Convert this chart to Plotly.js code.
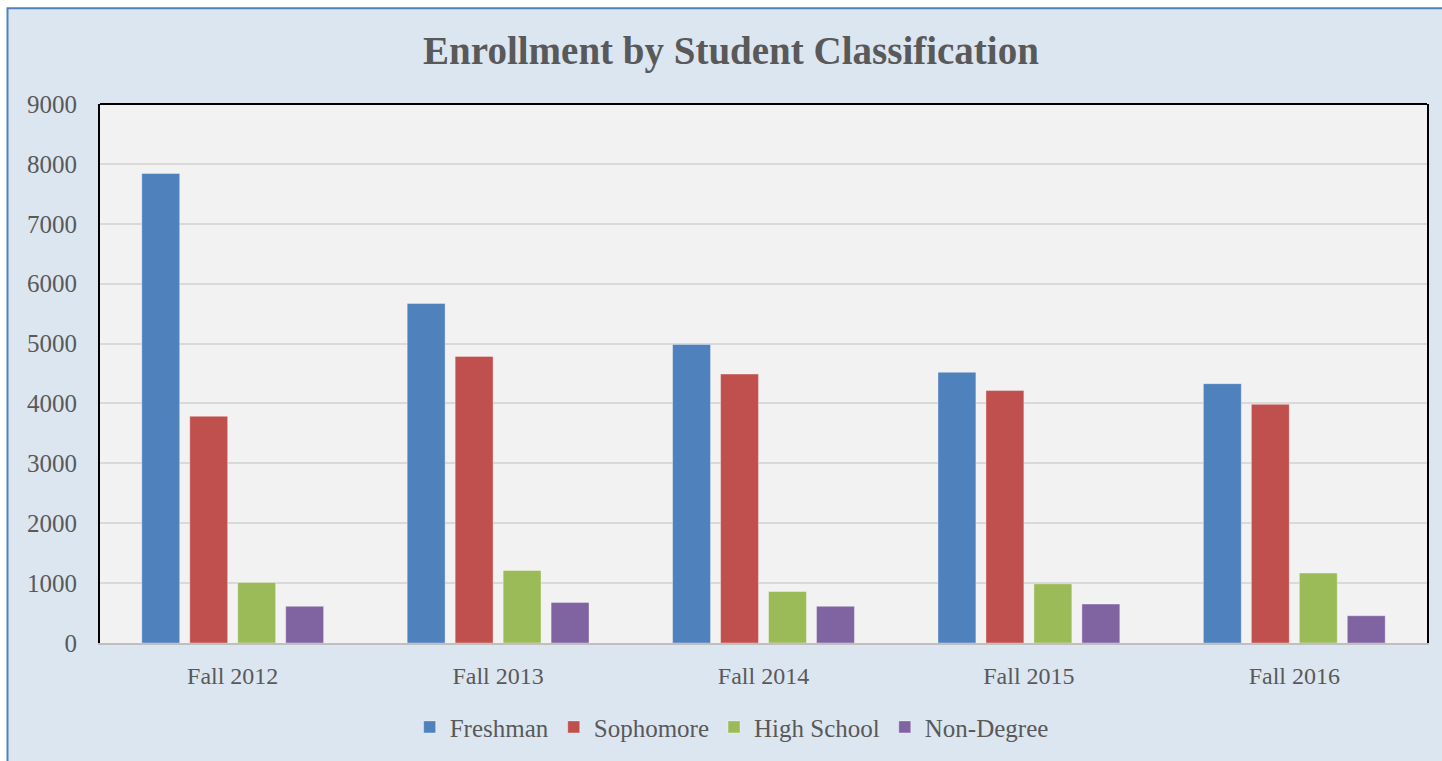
<!DOCTYPE html>
<html>
<head>
<meta charset="utf-8">
<script src="https://cdn.plot.ly/plotly-3.0.1.min.js"></script>
<style>html,body{margin:0;padding:0;background:#fff;}#chart{width:1442px;height:761px;}</style>
</head>
<body>
<div id="chart"></div>
<script>
const terms = ["Fall 2012", "Fall 2013", "Fall 2014", "Fall 2015", "Fall 2016"];
const freshman = [7840, 5670, 4985, 4520, 4330];
const sophomore = [3785, 4785, 4490, 4215, 3985];
const highSchool = [1010, 1210, 860, 988, 1167];
const nonDegree = [612, 678, 612, 650, 455];
const seriesNames = ["Freshman", "Sophomore", "High School", "Non-Degree"];
const seriesColors = ["#4f81bd", "#c0504d", "#9bbb59", "#8064a2"];
const seriesValues = [freshman, sophomore, highSchool, nonDegree];

const font = "'Liberation Serif', 'Times New Roman', serif";
const textColor = "#595959";

const traces = seriesValues.map((vals, i) => ({
  type: "bar",
  name: seriesNames[i],
  x: terms,
  y: vals,
  marker: { color: seriesColors[i], line: { color: "rgba(255,255,255,0.35)", width: 1 } },
  hoverinfo: "x+y+name"
}));

const layout = {
  width: 1442,
  height: 761,
  paper_bgcolor: "#ffffff",
  plot_bgcolor: "rgba(0,0,0,0)",
  margin: { l: 100, r: 15, t: 104, b: 117 },
  barmode: "group",
  bargap: 0.277,
  bargroupgap: 0.21,
  font: { family: font, color: textColor, size: 24 },
  title: {
    text: "<b>Enrollment by Student Classification</b>",
    font: { family: font, size: 39, color: textColor },
    x: 731 / 1442, xref: "container", xanchor: "center",
    y: 1 - 50 / 761, yref: "container", yanchor: "middle"
  },
  xaxis: {
    type: "category",
    showgrid: false,
    showline: true,
    linecolor: "#bfbfbf",
    linewidth: 2,
    ticks: "",
    ticklabelstandoff: 10,
    tickfont: { family: font, size: 24, color: textColor },
    zeroline: false,
    fixedrange: true
  },
  yaxis: {
    range: [0, 9000],
    dtick: 1000,
    tick0: 0,
    showgrid: true,
    gridcolor: "#d9d9d9",
    gridwidth: 2,
    showline: true,
    linecolor: "#000000",
    linewidth: 2,
    mirror: true,
    zeroline: false,
    ticks: "",
    ticklabelstandoff: 16,
    tickfont: { family: font, size: 25, color: textColor },
    fixedrange: true
  },
  legend: {
    orientation: "h",
    x: 0.476, xanchor: "center",
    y: -0.154, yanchor: "middle",
    font: { family: font, size: 25, color: textColor },
    bgcolor: "rgba(0,0,0,0)",
    itemclick: false,
    itemdoubleclick: false
  },
  shapes: [
    {
      type: "rect", layer: "below", xref: "paper", yref: "paper",
      x0: (7.5 - 100) / 1327, x1: (1450 - 100) / 1327,
      y0: (644 - 770) / 540, y1: 1 + (104 - 8) / 540,
      fillcolor: "#dce6f1", line: { color: "#4f81bd", width: 2 }
    },
    {
      type: "rect", layer: "below", xref: "paper", yref: "paper",
      x0: 0, x1: 1, y0: 0, y1: 1,
      fillcolor: "#f2f2f2", line: { width: 0 }
    },
    {
      type: "line", layer: "above", xref: "paper", yref: "paper",
      x0: 0, x1: 1, y0: 1, y1: 1,
      line: { color: "#000000", width: 2 }
    }
  ],
  showlegend: true
};

Plotly.newPlot("chart", traces, layout, { displayModeBar: false, staticPlot: false });
</script>
</body>
</html>
